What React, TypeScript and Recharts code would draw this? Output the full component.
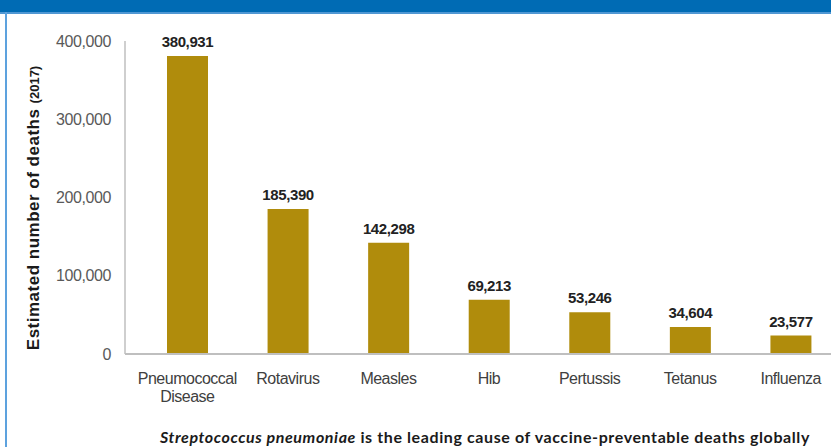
import React from 'react';
import { BarChart, Bar, XAxis, YAxis, LabelList, Text } from 'recharts';

// Estimated deaths from vaccine-preventable diseases, 2017
const categories = [
  'Pneumococcal Disease',
  'Rotavirus',
  'Measles',
  'Hib',
  'Pertussis',
  'Tetanus',
  'Influenza',
];
const deaths = [380931, 185390, 142298, 69213, 53246, 34604, 23577];
const yTicks = [0, 100000, 200000, 300000, 400000];

const data = categories.map((name, i) => ({ name, deaths: deaths[i] }));

const fmt = (v: number) => Number(v).toLocaleString('en-US');

const BAR_COLOR = '#B08C0C';
const SANS = '"Liberation Sans", Arial, sans-serif';

const CategoryTick = (props: any) => {
  const { x, y, payload } = props;
  return (
    <Text
      x={x}
      y={y}
      width={100}
      textAnchor="middle"
      verticalAnchor="start"
      lineHeight="1.08em"
      fill="#404040"
      fontSize={16}
      fontFamily={SANS}
      letterSpacing={-0.5}
    >
      {payload.value}
    </Text>
  );
};

const AxisTitle = () => (
  <text
    x={39}
    y={208}
    transform="rotate(-90 39 208)"
    textAnchor="middle"
    fontFamily={SANS}
    fontWeight="bold"
    fill="#1a1a1a"
  >
    <tspan fontSize={17} letterSpacing={0.5}>Estimated number of deaths </tspan>
    <tspan fontSize={13}>(2017)</tspan>
  </text>
);

export default function App() {
  return (
    <div
      style={{
        position: 'absolute',
        left: 0,
        top: 0,
        width: 831,
        height: 447,
        overflow: 'hidden',
        background: '#ffffff',
      }}
    >
      {/* panel header and frame */}
      <div style={{ position: 'absolute', left: 0, top: 0, width: 831, height: 12, background: '#006BB4' }} />
      <div style={{ position: 'absolute', left: 0, top: 12, width: 831, height: 2, background: '#4F97D3' }} />
      <div style={{ position: 'absolute', left: 5, top: 12, width: 2, height: 435, background: '#5DA2DE' }} />

      <div style={{ position: 'absolute', left: 0, top: 0 }}>
        <BarChart
          width={845}
          height={447}
          data={data}
          margin={{ top: 41, right: 4, left: 0, bottom: 0 }}
        >
          <YAxis
            width={125}
            domain={[0, 400000]}
            ticks={yTicks}
            tickFormatter={fmt}
            axisLine={{ stroke: '#BFBFBF', strokeWidth: 1.5 }}
            tickLine={false}
            tickSize={0}
            tickMargin={14}
            tick={{ fill: '#595959', fontSize: 16, fontFamily: SANS, letterSpacing: -0.4 }}
            label={{ content: () => <AxisTitle /> }}
          />
          <XAxis
            dataKey="name"
            height={93}
            padding={{ left: 12, right: 0 }}
            axisLine={{ stroke: '#BFBFBF', strokeWidth: 2 }}
            tickLine={false}
            tickSize={0}
            tickMargin={19}
            interval={0}
            tick={<CategoryTick />}
          />
          <Bar dataKey="deaths" fill={BAR_COLOR} barSize={41} isAnimationActive={false}>
            <LabelList
              dataKey="deaths"
              position="top"
              offset={9}
              formatter={(v: any) => fmt(v)}
              fill="#222222"
              fontSize={15}
              fontWeight="bold"
              fontFamily={SANS}
              letterSpacing={-0.4}
            />
          </Bar>
        </BarChart>
      </div>

      <div
        style={{
          position: 'absolute',
          left: 0,
          width: 970,
          top: 427,
          textAlign: 'center',
          fontFamily: 'Lato, "Open Sans", sans-serif',
          fontWeight: 'bold',
          fontSize: 16,
          letterSpacing: 0.6,
          lineHeight: '19px',
          color: '#1a1a1a',
          whiteSpace: 'nowrap',
        }}
      >
        <i>Streptococcus pneumoniae</i> is the leading cause of vaccine-preventable deaths globally
      </div>
    </div>
  );
}
